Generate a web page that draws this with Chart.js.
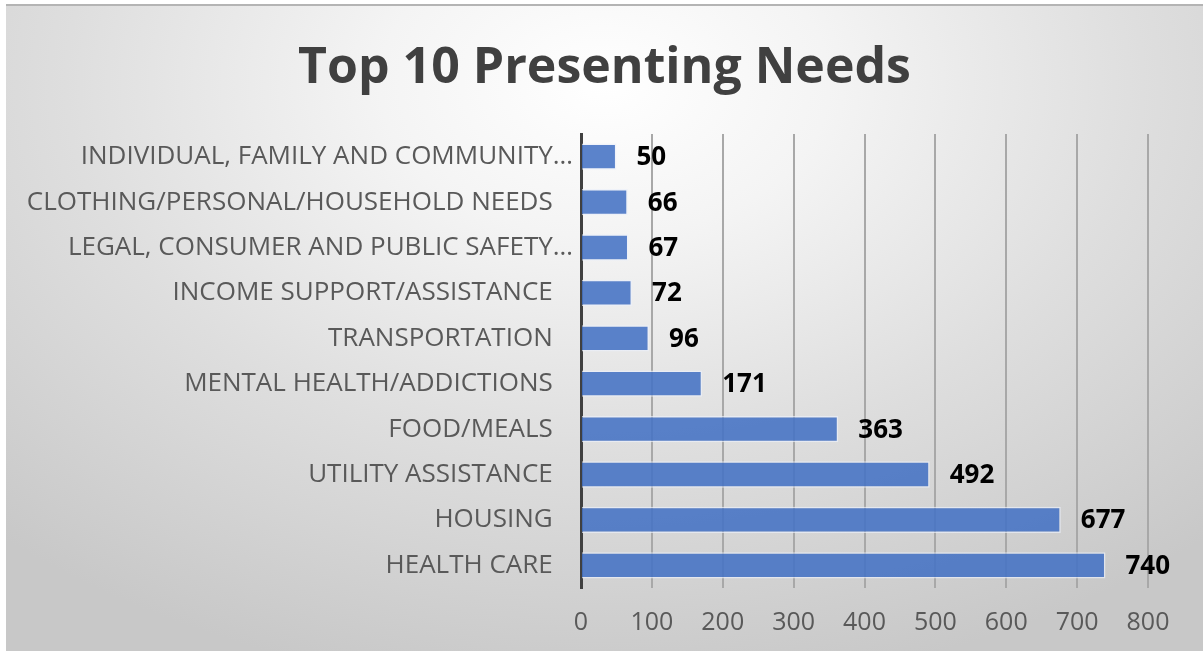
<!DOCTYPE html>
<html>
<head>
<meta charset="utf-8">
<script src="https://cdn.jsdelivr.net/npm/chart.js@4"></script>
<style>
  html, body { margin: 0; padding: 0; background: #ffffff; }
  #frame {
    position: absolute;
    left: 6px;
    top: 4px;
    width: 1197px;
    height: 645px;
    border-top: 2px solid #b4b4b4;
    background: radial-gradient(ellipse 75% 95% at 50% 12%, #ffffff 0%, #f4f4f4 25%, #dedede 60%, #c8c8c8 100%);
  }
</style>
</head>
<body>
<div id="frame"><canvas id="needs-chart" width="1197" height="645"></canvas></div>
<script>
let needsCanvas = document.getElementById("needs-chart");

// Needs, top to bottom as listed
const needLabels = [
    "INDIVIDUAL, FAMILY AND COMMUNITY…",
    "CLOTHING/PERSONAL/HOUSEHOLD NEEDS",
    "LEGAL, CONSUMER AND PUBLIC SAFETY…",
    "INCOME SUPPORT/ASSISTANCE",
    "TRANSPORTATION",
    "MENTAL HEALTH/ADDICTIONS",
    "FOOD/MEALS",
    "UTILITY ASSISTANCE",
    "HOUSING",
    "HEALTH CARE"
];
const needCounts = [50, 66, 67, 72, 96, 171, 363, 492, 677, 740];
const countTicks = [0, 100, 200, 300, 400, 500, 600, 700, 800];

const labelFont = "'Open Sans', 'Noto Sans', sans-serif";

// value labels at the end of each bar
const barValues = {
    id: "barValues",
    afterDatasetsDraw(chart) {
        let ctx = chart.ctx;
        ctx.save();
        ctx.font = "bold 26px " + labelFont;
        ctx.fillStyle = "#000000";
        ctx.textAlign = "left";
        ctx.textBaseline = "middle";
        chart.getDatasetMeta(0).data.forEach(function (bar, i) {
            ctx.fillText(needCounts[i], bar.x + 20, bar.y + 1);
        });
        ctx.restore();
    }
};

let needsData = {
    labels: needLabels,
    datasets: [{
        data: needCounts,
        backgroundColor: "rgba(68, 114, 196, 0.88)",
        borderColor: "rgba(235, 240, 250, 0.7)",
        borderWidth: 1.5,
        categoryPercentage: 0.58,
        barPercentage: 1
    }]
};

let needsOptions = {
    indexAxis: "y",
    responsive: false,
    animation: false,
    layout: {
        padding: 0
    },
    scales: {
        x: {
            min: 0,
            max: 800,
            afterBuildTicks(scale) {
                scale.ticks = countTicks.map(v => ({ value: v }));
            },
            afterFit(scale) {
                scale.height = 63;
                // room on the right for the last bar's value
                scale.paddingRight = 55;
            },
            grid: {
                color: "#a8a8a8",
                lineWidth: 2,
                drawTicks: false
            },
            border: { display: false },
            ticks: {
                color: "#595959",
                padding: 20,
                font: { family: labelFont, size: 25 }
            }
        },
        y: {
            afterFit(scale) {
                scale.width = 575;
            },
            grid: { display: false, drawTicks: false },
            border: { color: "#404040", width: 3 },
            ticks: {
                color: "#595959",
                padding: 8,
                font: { family: labelFont, size: 26 },
                callback(value) {
                    let text = this.getLabelForValue(value);
                    // full names sit a little further from the axis than cut ones
                    return text.endsWith("…") ? text : text + "   ";
                }
            }
        }
    },
    plugins: {
        legend: { display: false },
        tooltip: { enabled: false },
        title: {
            display: true,
            text: "Top 10 Presenting Needs",
            color: "#404040",
            font: { family: labelFont, size: 50, weight: "bold" },
            padding: { top: 33, bottom: 35 }
        }
    }
};

let needsChart = new Chart(needsCanvas, {
    type: "bar",
    data: needsData,
    options: needsOptions,
    plugins: [barValues]
});
</script>
</body>
</html>
